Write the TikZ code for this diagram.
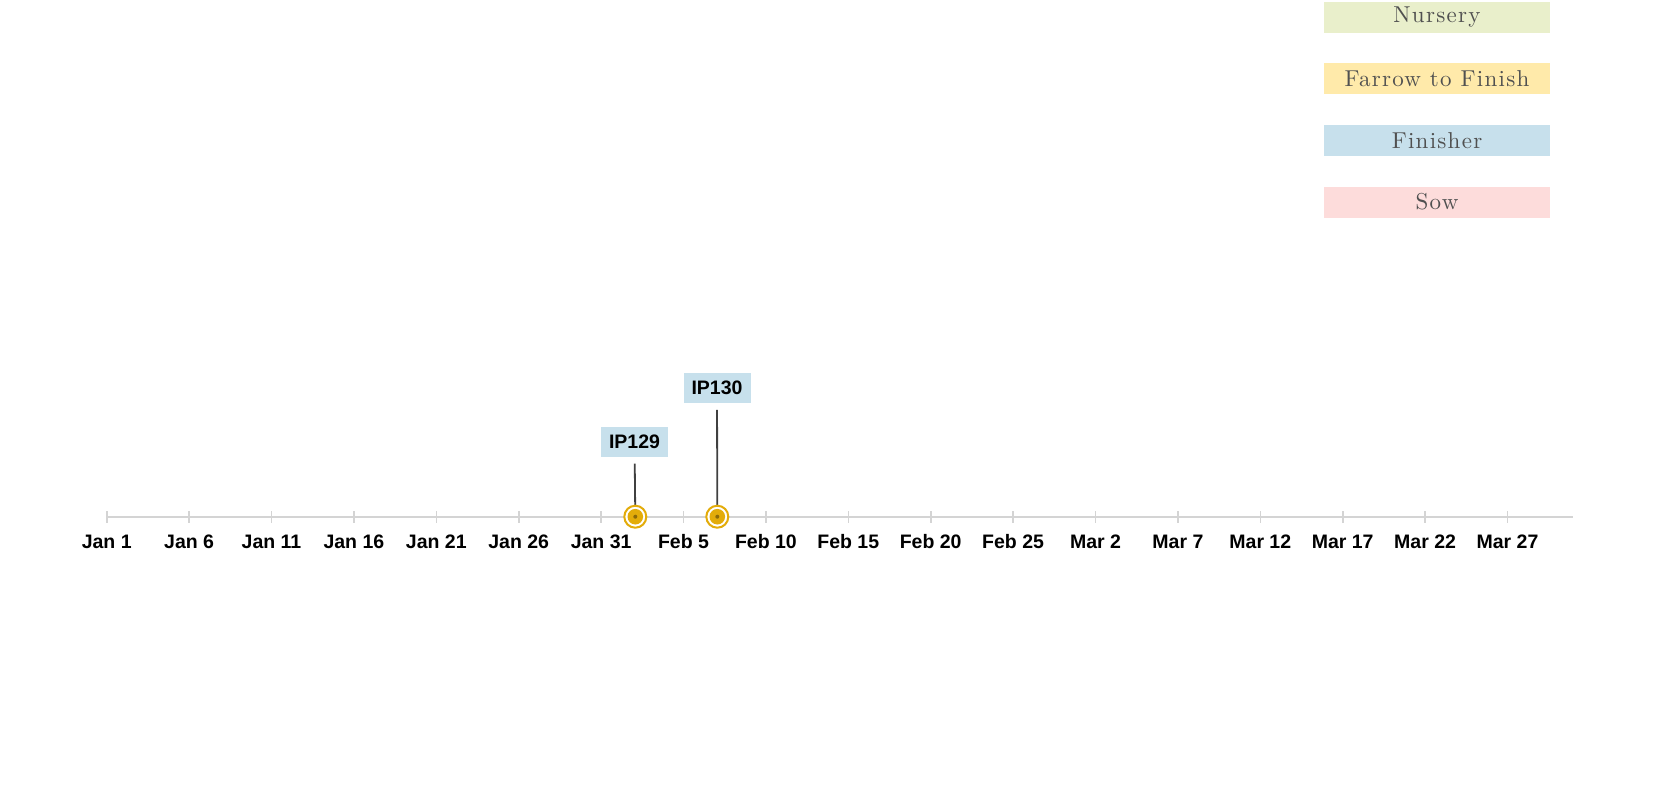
\documentclass[tikz,border=0pt]{standalone}
\usepackage{fontspec}
\newfontfamily\axisfont{Liberation Sans}
\newfontfamily\legendfont[LetterSpace=5.5]{lmroman10-regular.otf}
\definecolor{axisgray}{HTML}{D4D4D4}
\definecolor{stemgray}{HTML}{404040}
\definecolor{gold}{HTML}{E3AC0A}
\definecolor{golddark}{HTML}{8C6A08}
\definecolor{nursery}{HTML}{E9EFCB}
\definecolor{farrow}{HTML}{FFEAAA}
\definecolor{finisher}{HTML}{C7E0EC}
\definecolor{sow}{HTML}{FDDCDB}
\definecolor{legendtext}{HTML}{505050}
\tikzset{
  legendbox/.style={minimum width=226pt, minimum height=31pt, inner sep=0pt,
    text=legendtext, font=\legendfont\fontsize{23}{23}\selectfont},
  datelabel/.style={font=\axisfont\bfseries\fontsize{19.5}{19.5}\selectfont, inner sep=0pt},
  idbox/.style={fill=finisher, minimum width=67pt, minimum height=30pt, inner sep=0pt,
    font=\axisfont\bfseries\fontsize{19.5}{19.5}\selectfont},
  ring/.style={circle, draw=gold, line width=2pt, fill=white, minimum size=22pt, inner sep=0pt}
}
\begin{document}
\begin{tikzpicture}[x=1pt, y=-1pt]
  \useasboundingbox[fill=white] (0,0) rectangle (1670,807);
  % legend
  \node[legendbox, fill=nursery]  (nursery)  at (1437,17.2)  {Nursery};
  \node[legendbox, fill=farrow]   (farrow)   at (1437,78.3)  {Farrow to Finish};
  \node[legendbox, fill=finisher] (finisher) at (1437,140.3) {Finisher};
  \node[legendbox, fill=sow]      (sow)      at (1437,202)   {Sow};
  % time axis
  \draw[axisgray, line width=2pt] (106.7,517) -- (1573,517);
  \foreach \d [count=\i from 0] in {Jan 1,Jan 6,Jan 11,Jan 16,Jan 21,Jan 26,Jan 31,
      Feb 5,Feb 10,Feb 15,Feb 20,Feb 25,Mar 2,Mar 7,Mar 12,Mar 17,Mar 22,Mar 27} {
    \draw[axisgray, line width=1.6pt] (106.7+\i*82.4,511) -- (106.7+\i*82.4,523);
    \node[datelabel] at (106.7+\i*82.4,542) {\d};
  }
  % events
  \node[idbox] (ip129) at (634.5,441.7) {IP129};
  \node[idbox] (ip130) at (717,388) {IP130};
  \coordinate (ip129at) at (635.3,516.7);
  \coordinate (ip130at) at (717.3,516.7);
  \draw[stemgray, line width=1.8pt, shorten <=6.6pt] (ip129) -- (ip129at);
  \draw[stemgray, line width=1.8pt, shorten <=6.6pt] (ip130) -- (ip130at);
  \foreach \p in {ip129at,ip130at} {
    \node[ring] (\p ring) at (\p) {};
    \fill[gold] (\p) circle (7.8pt);
    \fill[golddark] (\p) circle (2pt);
  }
\end{tikzpicture}
\end{document}
